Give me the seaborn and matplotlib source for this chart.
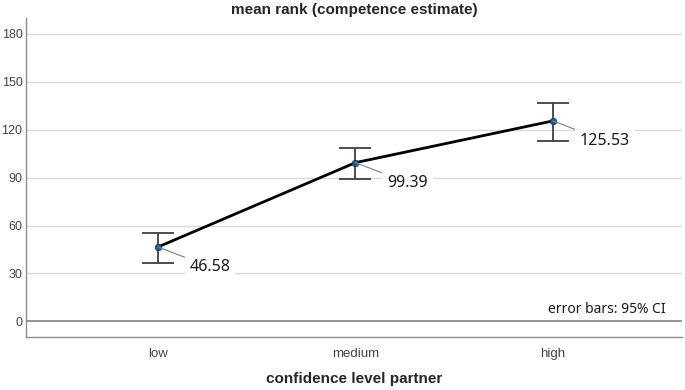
import matplotlib
matplotlib.use("Agg")
import matplotlib.pyplot as plt
import numpy as np
import pandas as pd
import seaborn as sns

# values
levels = ["low", "medium", "high"]
mean_rank = [46.58, 99.39, 125.53]
ci_lower = [36.7, 89.2, 112.7]
ci_upper = [55.2, 108.5, 137.0]
y_ticks = [0, 30, 60, 90, 120, 150, 180]

df = pd.DataFrame({
    "level": levels,
    "mean": mean_rank,
    "lo": ci_lower,
    "hi": ci_upper,
})

sns.set_style("white")
plt.rcParams["font.family"] = ["Liberation Sans", "DejaVu Sans"]

fig = plt.figure(figsize=(6.85, 3.9), dpi=100)
ax = fig.add_axes([0.038, 0.135, 0.958, 0.819])

# grid + zero reference line
for t in y_ticks[1:]:
    ax.axhline(t, color="#d9d9d9", lw=1.0, zorder=0)
ax.axhline(0, color="#808080", lw=1.2, zorder=1)

# confidence intervals
yerr = np.array([df["mean"] - df["lo"], df["hi"] - df["mean"]])
ax.errorbar(df["level"], df["mean"], yerr=yerr, fmt="none", ecolor="#404040",
            elinewidth=1.3, capsize=11.5, capthick=1.3, zorder=2)

# mean line and points
sns.lineplot(data=df, x="level", y="mean", sort=False, color="black",
             linewidth=2.0, ax=ax, zorder=3)
sns.scatterplot(data=df, x="level", y="mean", color="#1f5c8f", s=22,
                edgecolor="#0d2f4f", linewidth=0.5, ax=ax, zorder=4)

# value labels with leader lines
for lvl, m in zip(df["level"], df["mean"]):
    ax.annotate(f"{m:.2f}", xy=(lvl, m), xytext=(52, -20), textcoords="offset pixels",
                ha="center", va="center", fontsize=11.5, family=["Noto Sans", "DejaVu Sans"],
                color="#1a1a1a",
                bbox=dict(boxstyle="square,pad=0.3", fc="white", ec="none"),
                arrowprops=dict(arrowstyle="-", color="#808080", lw=0.8,
                                shrinkA=0, shrinkB=0),
                zorder=5)

ax.text(0.974, 0.0886, "error bars: 95% CI", transform=ax.transAxes, ha="right",
        va="center", fontsize=10, family=["Noto Sans", "DejaVu Sans"], color="#1a1a1a")

ax.set_xlim(-0.668, 2.655)
ax.set_ylim(-10, 190)
ax.set_yticks(y_ticks)
ax.tick_params(axis="x", length=0, labelsize=9.5, colors="#444444", pad=8)
ax.tick_params(axis="y", length=0, labelsize=9, colors="#444444", pad=2.5)

for side in ["top", "right"]:
    ax.spines[side].set_visible(False)
for side in ["left", "bottom"]:
    ax.spines[side].set_color("#8c8c8c")
    ax.spines[side].set_linewidth(1.0)

ax.set_title("mean rank (competence estimate)", fontsize=11, fontweight="bold", pad=3)
ax.set_xlabel("confidence level partner", fontsize=11, fontweight="bold", labelpad=8)
ax.set_ylabel("")

fig.savefig("out.png", dpi=100)
